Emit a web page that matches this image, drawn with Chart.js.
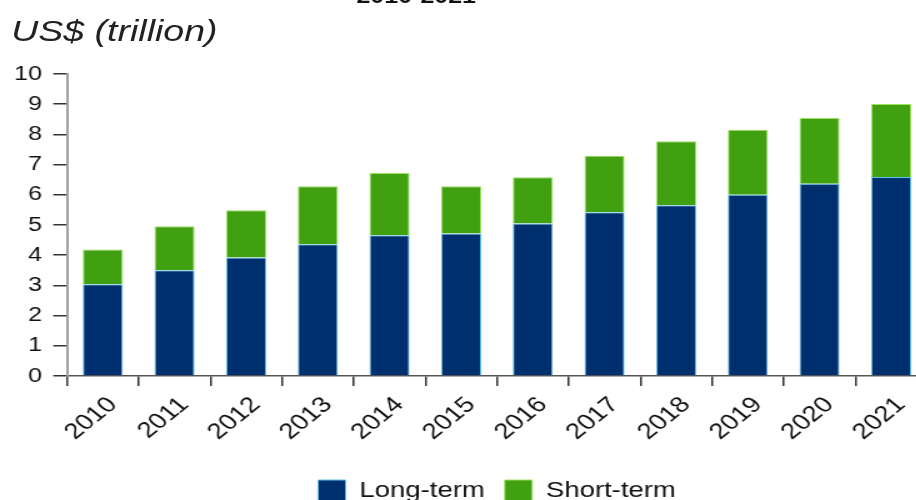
<!DOCTYPE html>
<html>
<head>
<meta charset="utf-8">
<script src="https://cdn.jsdelivr.net/npm/chart.js@4.4.1/dist/chart.umd.min.js"></script>
<style>
  html, body { margin: 0; padding: 0; background: #ffffff; }
  body { width: 916px; height: 500px; overflow: hidden; position: relative; }
  #wrap {
    position: absolute; left: 0; top: 0;
    width: 745px; height: 515px;
    transform: scaleX(1.25); transform-origin: 0 0;
  }
  #chart { display: block; }
  .heading {
    position: absolute; left: 233px; top: -14px; width: 200px;
    text-align: center; font: bold 20px "Liberation Sans", Arial, sans-serif;
    line-height: 20px; color: #111;
  }
  .unit {
    position: absolute; left: 9px; top: 16px;
    font: italic 30px "Liberation Sans", Arial, sans-serif;
    line-height: 30px; color: #222;
  }
</style>
</head>
<body>
<div id="wrap">
  <canvas id="chart" width="745" height="515"></canvas>
  <div class="heading">2010-2021</div>
  <div class="unit">US$ (trillion)</div>
</div>
<script>
// Outstanding debt, US$ trillion, split by maturity
const years = ['2010', '2011', '2012', '2013', '2014', '2015', '2016', '2017', '2018', '2019', '2020', '2021'];
const longTerm = [3.04, 3.50, 3.92, 4.36, 4.66, 4.72, 5.05, 5.42, 5.65, 6.00, 6.37, 6.59];
const shortTerm = [1.15, 1.46, 1.57, 1.92, 2.06, 1.56, 1.53, 1.87, 2.12, 2.15, 2.17, 2.42];
const yTicks = [0, 1, 2, 3, 4, 5, 6, 7, 8, 9, 10];

const FONT = '"Liberation Sans", Arial, sans-serif';

new Chart(document.getElementById('chart'), {
  type: 'bar',
  data: {
    labels: years,
    datasets: [
      {
        label: 'Long-term',
        data: longTerm,
        backgroundColor: '#002f6f',
        borderColor: '#5cc3ec',
        borderWidth: 1,
        categoryPercentage: 1,
        barPercentage: 0.56
      },
      {
        label: 'Short-term',
        data: shortTerm,
        backgroundColor: '#40a010',
        borderColor: '#9ee060',
        borderWidth: 1,
        categoryPercentage: 1,
        barPercentage: 0.56
      }
    ]
  },
  options: {
    responsive: false,
    animation: false,
    events: [],
    layout: { padding: { top: 74, right: 3.4, bottom: 3, left: 0 } },
    plugins: {
      title: { display: false },
      tooltip: { enabled: false },
      legend: {
        position: 'bottom',
        fullSize: false,
        labels: {
          boxWidth: 22,
          boxHeight: 22,
          padding: 16,
          color: '#111',
          font: { family: FONT, size: 22 }
        }
      }
    },
    scales: {
      x: {
        stacked: true,
        grid: {
          drawOnChartArea: false,
          drawTicks: true,
          tickLength: 10,
          color: '#333',
          lineWidth: 1.5
        },
        border: { display: true, color: '#555', width: 1.5 },
        ticks: {
          minRotation: 45,
          maxRotation: 45,
          autoSkip: false,
          padding: 6,
          labelOffset: 8,
          color: '#111',
          font: { family: FONT, size: 22 }
        },
        afterFit: (scale) => { scale.height = 88; }
      },
      y: {
        stacked: true,
        min: 0,
        max: 10,
        afterBuildTicks: (scale) => { scale.ticks = yTicks.map(v => ({ value: v })); },
        grid: {
          drawOnChartArea: false,
          drawTicks: true,
          tickLength: 11,
          color: '#333',
          lineWidth: 1.5
        },
        border: { display: true, color: '#a0a0a0', width: 2 },
        ticks: {
          padding: 9,
          color: '#111',
          font: { family: FONT, size: 20 }
        },
        afterFit: (scale) => { scale.width = 53.6; }
      }
    }
  }
});
</script>
</body>
</html>
